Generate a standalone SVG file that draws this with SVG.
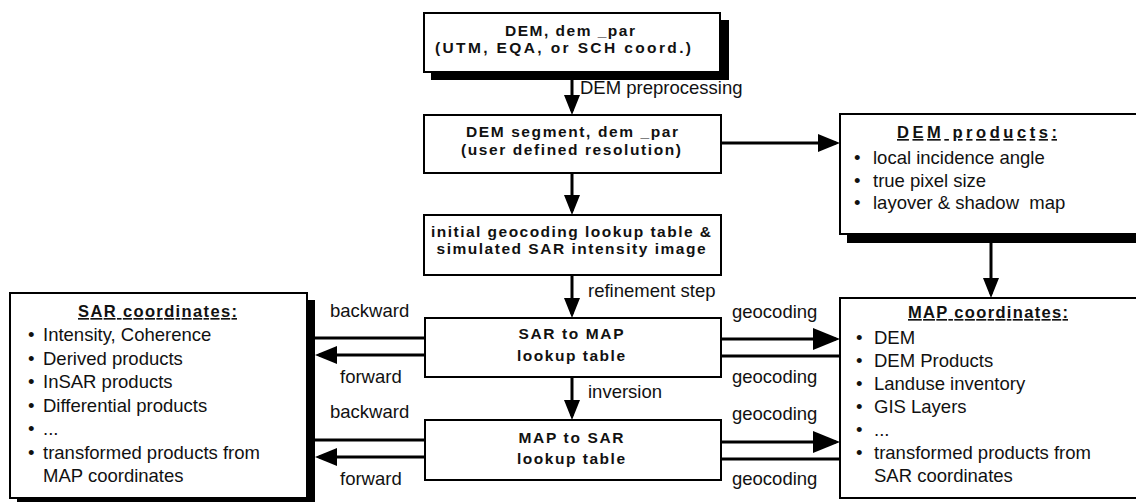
<svg xmlns="http://www.w3.org/2000/svg" width="1136" height="502" viewBox="0 0 1136 502">
<style>
.box{fill:#fff;stroke:#000;stroke-width:2}
.shadow{fill:#000}
.b{font-family:"Liberation Sans",Arial,sans-serif;font-weight:bold;font-size:15.5px;letter-spacing:2px;fill:#111;text-anchor:middle}
.t{font-family:"Liberation Sans",Arial,sans-serif;font-size:18.5px;fill:#111}
.h{font-family:"Liberation Sans",Arial,sans-serif;font-weight:bold;font-size:16.5px;fill:#111;text-decoration:underline}
.c{stroke:#000;stroke-width:3;fill:none}
</style>
<defs>
<marker id="ah" markerUnits="userSpaceOnUse" markerWidth="20" markerHeight="16" refX="16" refY="8" orient="auto"><path d="M0,0 L20,8 L0,16 z" fill="#000"/></marker>
<marker id="ahm" markerUnits="userSpaceOnUse" markerWidth="22" markerHeight="18" refX="18" refY="9" orient="auto"><path d="M0,0 L22,9 L0,18 z" fill="#000"/></marker>
<marker id="ahb" markerUnits="userSpaceOnUse" markerWidth="27" markerHeight="22" refX="23" refY="11" orient="auto"><path d="M0,0 L27,11 L0,22 z" fill="#000"/></marker>
</defs>

<g id="connectors">
<line class="c" x1="572" y1="80" x2="572" y2="111" marker-end="url(#ah)"/>
<line class="c" x1="572" y1="173" x2="572" y2="211" marker-end="url(#ah)"/>
<line class="c" x1="572" y1="275" x2="572" y2="314" marker-end="url(#ah)"/>
<line class="c" x1="572" y1="377" x2="572" y2="416" marker-end="url(#ah)"/>
<line class="c" x1="721" y1="143" x2="836" y2="143" marker-end="url(#ahm)"/>
<line class="c" x1="991" y1="243" x2="991" y2="294" marker-end="url(#ah)"/>
<line class="c" x1="315" y1="338" x2="425" y2="338"/>
<line class="c" x1="425" y1="355" x2="319" y2="355" marker-end="url(#ahm)"/>
<line class="c" x1="315" y1="440" x2="425" y2="440"/>
<line class="c" x1="425" y1="457" x2="319" y2="457" marker-end="url(#ahm)"/>
<line class="c" x1="721" y1="339" x2="836" y2="339" marker-end="url(#ahb)"/>
<line class="c" x1="721" y1="356" x2="840" y2="356"/>
<line class="c" x1="721" y1="442" x2="836" y2="442" marker-end="url(#ahb)"/>
<line class="c" x1="721" y1="459" x2="840" y2="459"/>
<text class="t" x="580" y="94">DEM preprocessing</text>
<text class="t" x="588" y="297">refinement step</text>
<text class="t" x="588" y="398">inversion</text>
<text class="t" x="330" y="317">backward</text>
<text class="t" x="340" y="383">forward</text>
<text class="t" x="330" y="418">backward</text>
<text class="t" x="340" y="485">forward</text>
<text class="t" x="732" y="318">geocoding</text>
<text class="t" x="732" y="383">geocoding</text>
<text class="t" x="732" y="420">geocoding</text>
<text class="t" x="732" y="485">geocoding</text>
</g>

<g id="dem">
<rect class="shadow" x="431" y="20" width="298" height="60"/>
<rect class="box" x="424" y="13" width="296" height="59"/>
<text class="b" x="571" y="36" textLength="132">DEM, dem _par</text>
<text class="b" x="564" y="53" textLength="258">(UTM, EQA, or SCH coord.)</text>
</g>

<g id="dem-segment">
<rect class="box" x="424" y="115" width="297" height="58"/>
<text class="b" x="573" y="137" textLength="214">DEM segment, dem _par</text>
<text class="b" x="572" y="155" textLength="222">(user defined resolution)</text>
</g>

<g id="initial-lookup">
<rect class="box" x="424" y="215" width="297" height="60"/>
<text class="b" x="572" y="237" textLength="282">initial geocoding lookup table &amp;</text>
<text class="b" x="572" y="254" textLength="271">simulated SAR intensity image</text>
</g>

<g id="sar-to-map">
<rect class="box" x="425" y="318" width="296" height="59"/>
<text class="b" x="572" y="339" textLength="107">SAR to MAP</text>
<text class="b" x="572" y="361" textLength="110">lookup table</text>
</g>

<g id="map-to-sar">
<rect class="box" x="425" y="420" width="296" height="60"/>
<text class="b" x="572" y="443" textLength="107">MAP to SAR</text>
<text class="b" x="572" y="464" textLength="110">lookup table</text>
</g>

<g id="dem-products">
<rect class="shadow" x="847" y="121" width="310" height="122"/>
<rect class="box" x="840" y="114" width="310" height="120"/>
<text class="h" x="897" y="138" textLength="160">DEM products:</text>
<text class="t" y="164"><tspan x="854">•</tspan><tspan x="873">local incidence angle</tspan></text>
<text class="t" y="186.5"><tspan x="854">•</tspan><tspan x="873">true pixel size</tspan></text>
<text class="t" y="209"><tspan x="854">•</tspan><tspan x="873">layover &amp; shadow&#160; map</tspan></text>
</g>

<g id="sar-coordinates">
<rect class="shadow" x="17" y="300" width="298" height="210"/>
<rect class="box" x="10" y="293" width="297" height="205"/>
<text class="h" x="78" y="317" textLength="159">SAR coordinates:</text>
<text class="t" y="341"><tspan x="28">•</tspan><tspan x="43">Intensity, Coherence</tspan></text>
<text class="t" y="364.5"><tspan x="28">•</tspan><tspan x="43">Derived products</tspan></text>
<text class="t" y="388"><tspan x="28">•</tspan><tspan x="43">InSAR products</tspan></text>
<text class="t" y="411.5"><tspan x="28">•</tspan><tspan x="43">Differential products</tspan></text>
<text class="t" y="435"><tspan x="28">•</tspan><tspan x="43">...</tspan></text>
<text class="t" y="458.5"><tspan x="28">•</tspan><tspan x="43">transformed products from</tspan></text>
<text class="t" x="43" y="482">MAP coordinates</text>
</g>

<g id="map-coordinates">
<rect class="box" x="840" y="298" width="310" height="200"/>
<text class="h" x="908" y="318" textLength="160">MAP coordinates:</text>
<text class="t" y="344"><tspan x="856">•</tspan><tspan x="874">DEM</tspan></text>
<text class="t" y="367"><tspan x="856">•</tspan><tspan x="874">DEM Products</tspan></text>
<text class="t" y="390"><tspan x="856">•</tspan><tspan x="874">Landuse inventory</tspan></text>
<text class="t" y="413"><tspan x="856">•</tspan><tspan x="874">GIS Layers</tspan></text>
<text class="t" y="436"><tspan x="856">•</tspan><tspan x="874">...</tspan></text>
<text class="t" y="459"><tspan x="856">•</tspan><tspan x="874">transformed products from</tspan></text>
<text class="t" x="874" y="482">SAR coordinates</text>
</g>
</svg>
